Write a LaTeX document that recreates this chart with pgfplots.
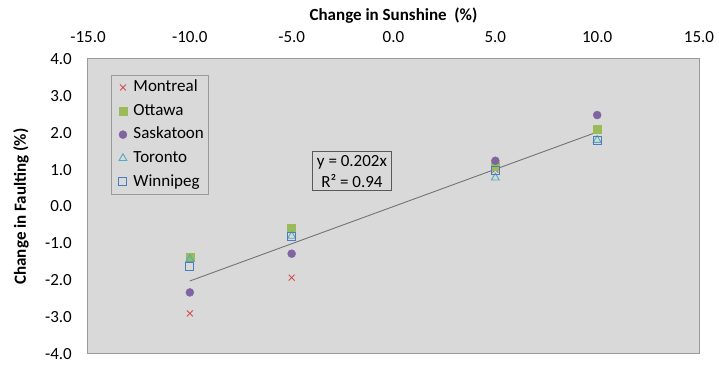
\documentclass[border=0pt]{standalone}
\usepackage{pgfplots}
\pgfplotsset{compat=1.18}
\usepackage{fontspec}
\setmainfont{Carlito}
\definecolor{plotbg}{HTML}{D9D9D9}
\definecolor{frame}{HTML}{9A9A9A}
\definecolor{annot}{HTML}{595959}
\definecolor{cMon}{HTML}{D0504D}
\definecolor{cOtt}{HTML}{9BBB59}
\definecolor{cSas}{HTML}{8064A2}
\definecolor{cTor}{HTML}{4BACC6}
\definecolor{cWin}{HTML}{4A7EBB}
\definecolor{trend}{HTML}{737373}
\newcommand{\chartfont}{\fontsize{17bp}{21bp}\selectfont}
\begin{document}
\begin{tikzpicture}
\path[use as bounding box] (-88bp,-11bp) rectangle (631bp,354bp);
\begin{axis}[
  scale only axis, width=611bp, height=295bp,
  xmin=-15, xmax=15, ymin=-4, ymax=4,
  xtick={-15,-10,...,15}, ytick={-4,-3,...,4},
  xticklabel pos=upper,
  major tick length=0pt,
  axis line style={draw=frame, line width=1bp},
  axis background/.style={fill=plotbg},
  /pgf/number format/.cd, fixed, fixed zerofill, precision=1, assume math mode=true,
  /pgfplots/.cd,
  xticklabel style={font=\chartfont, inner sep=0pt, anchor=south, yshift=16bp},
  yticklabel style={font=\chartfont, inner sep=0pt, anchor=east, xshift=-16bp},
  xlabel={Change in Sunshine\ \ (\%)},
  ylabel={Change in Faulting (\%)},
  xlabel style={font=\chartfont\bfseries, at={(axis description cs:0.5,1.1298)}, anchor=base},
  ylabel style={font=\chartfont\bfseries, at={(axis description cs:-0.1015,0.5)}, anchor=base},
  legend cell align=left,
  legend style={at={(axis description cs:0.0376,0.9458)}, anchor=north west,
    draw=frame, fill=none, font=\chartfont, inner xsep=4.5bp, inner ysep=3.5bp,
    row sep=6.1bp, nodes={inner sep=0pt, text height=13bp, text depth=4.5bp}},
  legend image code/.code={\draw[#1] plot coordinates {(6.8bp,0bp)}; \path (0bp,0bp) (16.8bp,0bp);},
]
% city series: change in faulting vs change in sunshine
\addplot[only marks, mark=x, mark size=4.2bp, color=cMon, line width=0.9bp]
  coordinates {(-10,-2.90) (-5,-1.93) (5,1.00) (10,2.10)};
\addlegendentry{Montreal}
\addplot[only marks, mark=square*, mark size=4bp, draw=cOtt, fill=cOtt]
  coordinates {(-10,-1.37) (-5,-0.60) (5,1.10) (10,2.10)};
\addlegendentry{Ottawa}
\addplot[only marks, mark=*, mark size=4bp, draw=cSas, fill=cSas]
  coordinates {(-10,-2.33) (-5,-1.28) (5,1.24) (10,2.48)};
\addlegendentry{Saskatoon}
\addplot[only marks, mark=triangle, mark size=4.5bp, color=cTor, line width=0.9bp]
  coordinates {(-10,-1.43) (-5,-0.80) (5,0.78) (10,1.80)};
\addlegendentry{Toronto}
\addplot[only marks, mark=square, mark size=4bp, color=cWin, line width=1bp]
  coordinates {(-10,-1.63) (-5,-0.82) (5,0.97) (10,1.78)};
\addlegendentry{Winnipeg}
% linear trend through the origin
\addplot[trend, line width=0.9bp, forget plot] coordinates {(-10,-2.02) (10,2.02)};
\node[draw=annot, line width=0.8bp, font=\chartfont, align=center, inner xsep=4.5bp, inner ysep=3.5bp]
  at (axis cs:-2.04,0.96) {y = 0.202x\\R² = 0.94};
\end{axis}
\end{tikzpicture}
\end{document}
